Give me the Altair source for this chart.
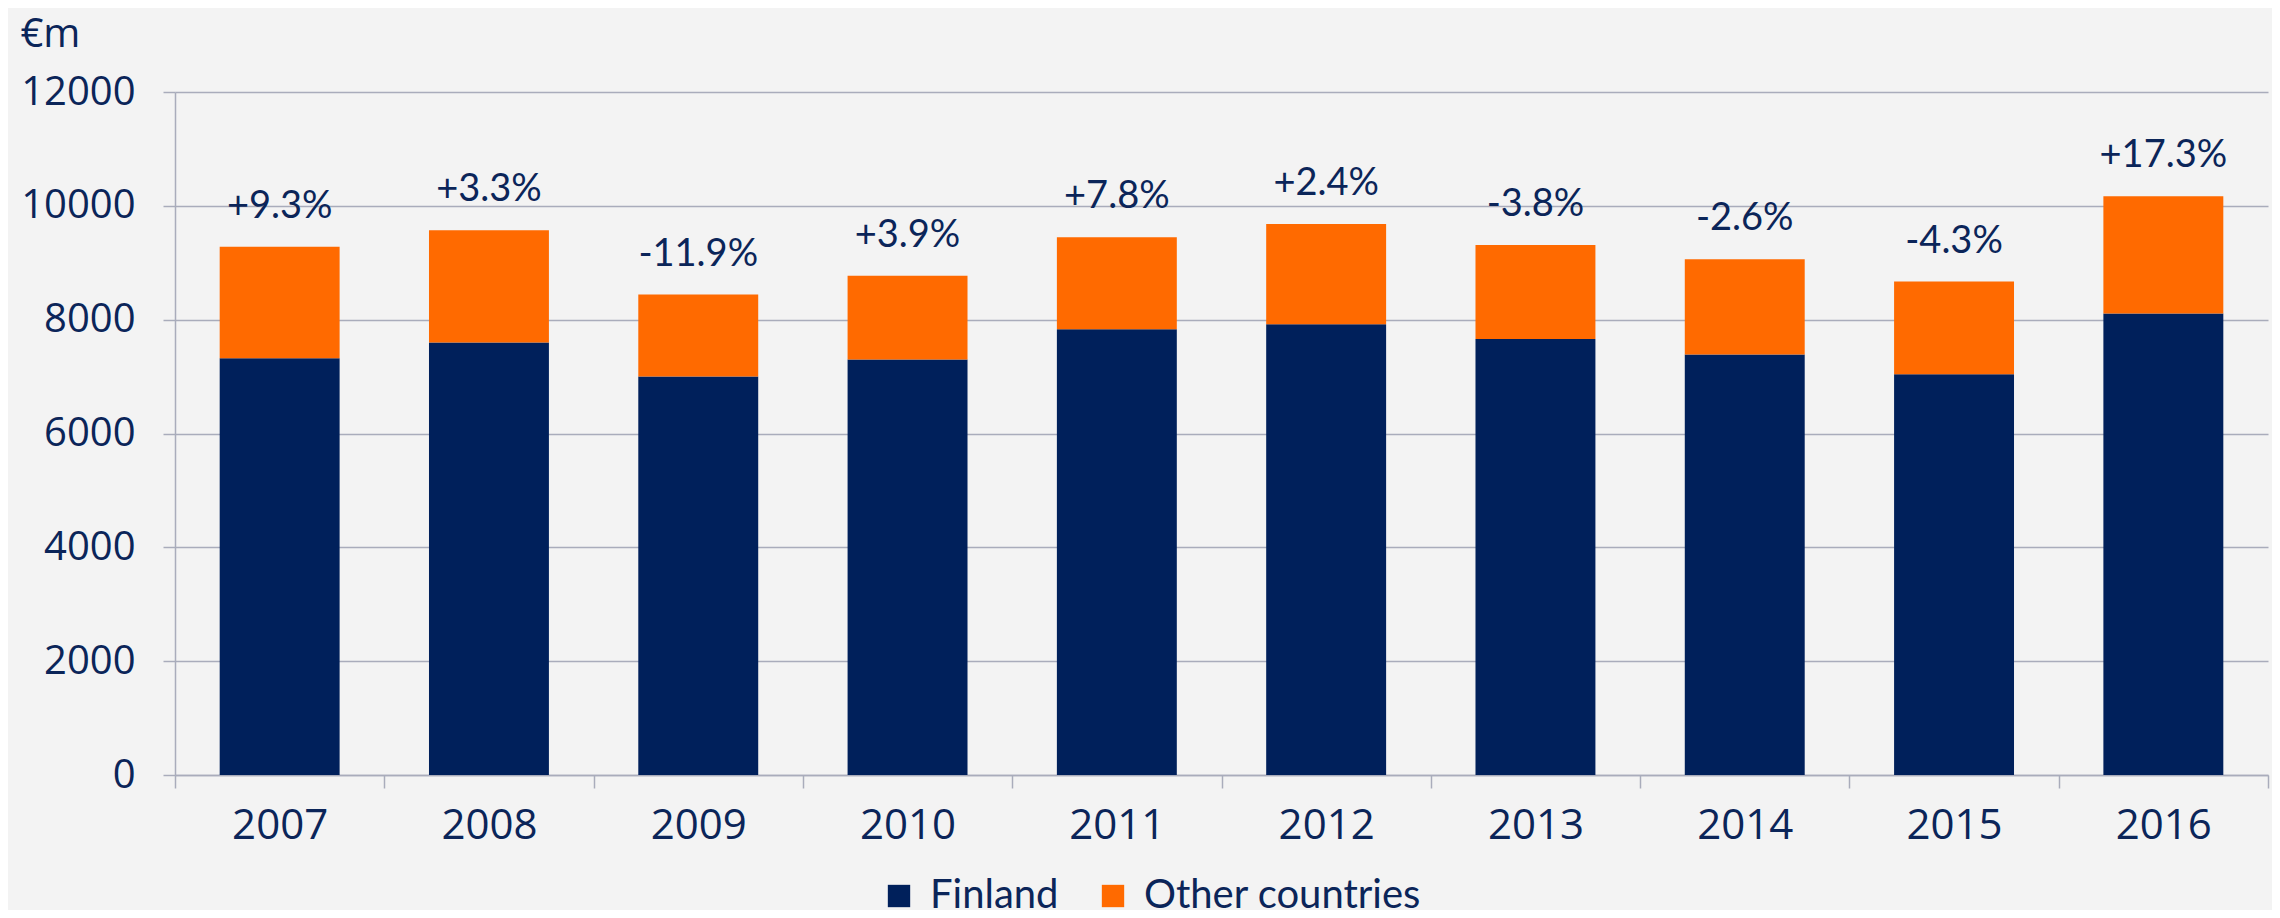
import altair as alt
import pandas as pd

years = ["2007", "2008", "2009", "2010", "2011", "2012", "2013", "2014", "2015", "2016"]
finland = [7320, 7600, 7000, 7300, 7830, 7920, 7660, 7390, 7040, 8110]
other = [1960, 1970, 1440, 1470, 1620, 1760, 1650, 1670, 1630, 2060]
changes = ["+9.3%", "+3.3%", "-11.9%", "+3.9%", "+7.8%", "+2.4%", "-3.8%", "-2.6%", "-4.3%", "+17.3%"]
series = ["Finland", "Other countries"]

NAVY = "#00205b"
ORANGE = "#ff6a00"
TEXT = "#0b2559"
GRID = "#a9acbb"
BG = "#f3f3f3"
HUM = "Lato"

rows = []
for i, y in enumerate(years):
    rows.append({"year": y, "series": series[0], "value": finland[i], "order": 0})
    rows.append({"year": y, "series": series[1], "value": other[i], "order": 1})
df = pd.DataFrame(rows)

tot = pd.DataFrame({
    "year": years,
    "total": [f + o for f, o in zip(finland, other)],
    "label": changes,
})

xenc = alt.X(
    "year:N",
    scale=alt.Scale(paddingInner=0, paddingOuter=0),
    axis=alt.Axis(
        title=None,
        labelAngle=0,
        labelFont="Open Sans",
        labelFontSize=42,
        labelColor=TEXT,
        labelPadding=17,
        tickBand="extent",
        tickSize=13,
        tickColor=GRID,
        tickWidth=1.5,
        domainColor=GRID,
        domainWidth=1.5,
        grid=False,
    ),
)

bars = alt.Chart(df).mark_bar(width=alt.RelativeBandSize(0.573)).encode(
    x=xenc,
    y=alt.Y(
        "value:Q",
        stack="zero",
        scale=alt.Scale(domain=[0, 12000], nice=False),
        axis=alt.Axis(
            title="€m",
            titleAngle=0,
            titleFont="Open Sans",
            titleFontSize=40,
            titleFontWeight="normal",
            titleColor=TEXT,
            titleAlign="left",
            titleBaseline="top",
            titleX=-155,
            titleY=-78,
            values=[0, 2000, 4000, 6000, 8000, 10000, 12000],
            format="d",
            labelFont="Open Sans",
            labelFontSize=40,
            labelColor=TEXT,
            labelPadding=28,
            tickSize=12,
            tickColor=GRID,
            tickWidth=1.5,
            domainColor=GRID,
            domainWidth=1.5,
            grid=True,
            gridColor=GRID,
            gridWidth=1.5,
        ),
    ),
    color=alt.Color(
        "series:N",
        scale=alt.Scale(domain=series, range=[NAVY, ORANGE]),
        legend=alt.Legend(
            title=None,
            orient="none",
            legendX=704,
            legendY=784,
            direction="horizontal",
            symbolType="square",
            symbolSize=500,
            symbolStrokeWidth=0,
            labelFont=HUM,
            labelFontSize=40,
            labelColor=TEXT,
            labelOffset=11,
            labelLimit=600,
            columnPadding=34,
            padding=0,
        ),
    ),
    order=alt.Order("order:Q", sort="ascending"),
)

labels = alt.Chart(tot).mark_text(
    font=HUM,
    fontSize=38,
    color=TEXT,
    baseline="middle",
    align="center",
    dy=-40,
).encode(
    x=alt.X("year:N"),
    y=alt.Y("total:Q"),
    text="label:N",
)

chart = (
    alt.layer(bars, labels)
    .properties(
        width=2093,
        height=683,
        autosize=alt.AutoSizeParams(type="none"),
        padding={"left": 167, "top": 84, "right": 4, "bottom": 135},
        background=BG,
    )
    .configure_view(stroke=None)
)

chart.save("out.html", embed_options={"renderer": "svg", "actions": False})
